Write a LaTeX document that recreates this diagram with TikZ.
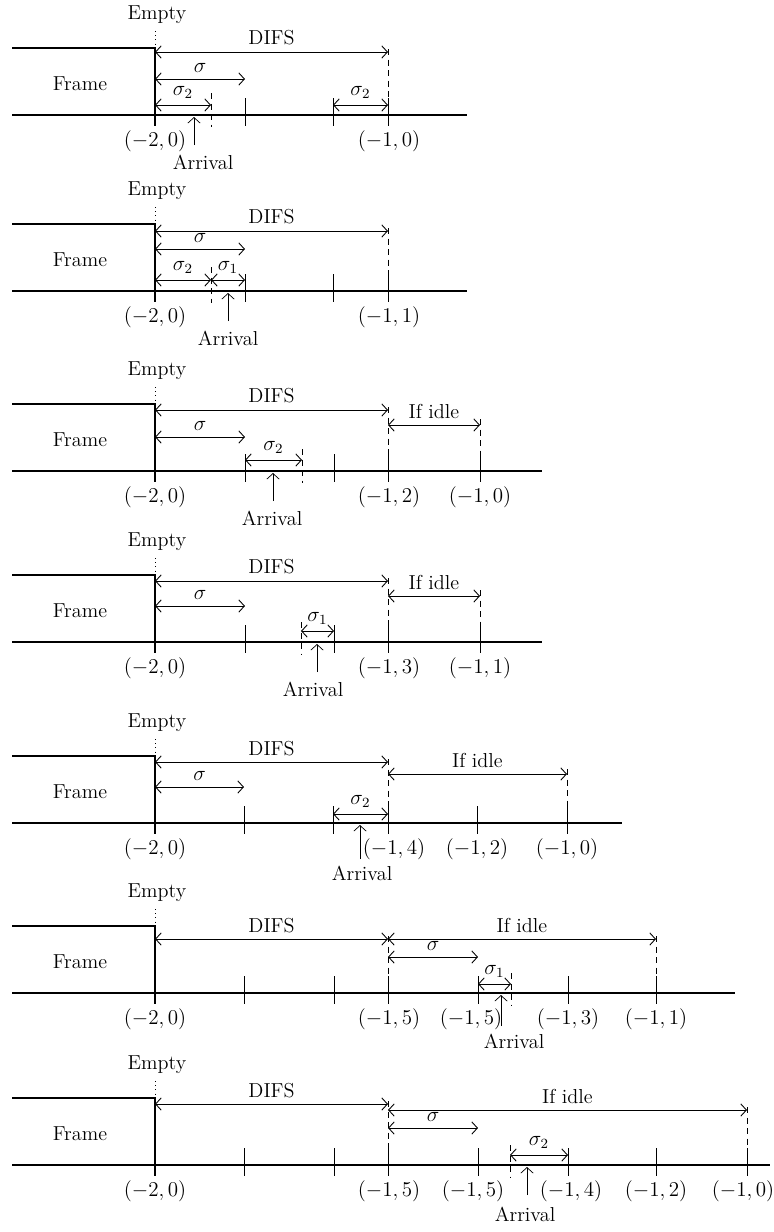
\documentclass[tikz,border=0pt]{standalone}
\usetikzlibrary{arrows.meta}
\tikzset{
  >={Straight Barb[length=3.2pt,width=7pt]},
  axis/.style={line width=0.6pt},
  slot/.style={line width=0.5pt},
  halfslot/.style={line width=0.5pt,dash pattern=on 3.5pt off 2.5pt},
  dimline/.style={<->,line width=0.5pt},
  lab/.style={midway,above=2.5pt,inner sep=1pt},
}
\begin{document}
\begin{tikzpicture}[x=0.02cm,y=-0.02cm,font=\fontsize{11.5}{13.8}\selectfont]
  \useasboundingbox (0,0) rectangle (774,1232);
  % common part of each panel: frame, time axis, DIFS
  \foreach \i/\yb/\xe/\yd/\n/\xn in {1/115/467/-63/0/389,2/291/467/-60/1/389,3/471/542/-61/2/389,
      4/642/542/-61/3/389,5/823/622/-61/4/394,6/993/735/-54/5/389,7/1165/770/-61/5/389}{
    \begin{scope}[shift={(0,\yb)}]
      \draw[axis] (12,-67) -- (155,-67) -- (155,11);
      \draw[axis] (12,0) -- (\xe,0);
      \draw[dotted] (155,-84) -- (155,-67);
      \node (empty\i) at (157,-100) {Empty};
      \node (frame\i) at (80,-31) {Frame};
      \node (start\i) at (155,26) {$(-2,0)$};
      \node (end\i) at (\xn,26) {$(-1,\n)$};
      \draw[halfslot] (388,\yd-3) -- (388,-17);
      \draw[slot] (388,-17) -- (388,11);
      \draw[dimline] (155,\yd) -- (388,\yd) node[lab] (difs\i) {DIFS};
    \end{scope}
  }
  % panel 1
  \begin{scope}[shift={(0,115)}]
    \foreach \x in {245,333} \draw[slot] (\x,-17) -- (\x,11);
    \draw[halfslot] (211,-22) -- (211,12);
    \draw[dimline] (155,-36) -- (245,-36) node[lab] (sig1) {$\sigma$};
    \draw[dimline] (155,-10) -- (211,-10) node[lab] (sigb1) {$\sigma_2$};
    \draw[dimline] (333,-10) -- (388,-10) node[lab] (sigc1) {$\sigma_2$};
    \node (arr1) at (203,47) {Arrival};
    \draw[->] (194,30) -- (194,2);
  \end{scope}
  % panel 2
  \begin{scope}[shift={(0,291)}]
    \foreach \x in {245,333} \draw[slot] (\x,-17) -- (\x,11);
    \draw[halfslot] (211,-24) -- (211,12);
    \draw[dimline] (155,-42) -- (245,-42) node[lab] (sig2) {$\sigma$};
    \draw[dimline] (155,-11) -- (211,-11) node[lab] (sigb2) {$\sigma_2$};
    \draw[dimline] (211,-11) -- (245,-11) node[lab] (sigc2) {$\sigma_1$};
    \node (arr2) at (228,47) {Arrival};
    \draw[->] (228,30) -- (228,2);
  \end{scope}
  % panel 3
  \begin{scope}[shift={(0,471)}]
    \foreach \x in {245,334} \draw[slot] (\x,-17) -- (\x,11);
    \draw[halfslot] (302,-22) -- (302,12);
    \draw[halfslot] (480,-52) -- (480,-17);
    \draw[slot] (480,-17) -- (480,11);
    \node (idle3) at (480,26) {$(-1,0)$};
    \draw[dimline] (155,-34) -- (245,-34) node[lab] (sig3) {$\sigma$};
    \draw[dimline] (245,-11) -- (302,-11) node[lab] (sigb3) {$\sigma_2$};
    \draw[dimline] (388,-46) -- (480,-46) node[lab] (ifidle3) {If idle};
    \node (arr3) at (272,47) {Arrival};
    \draw[->] (273,30) -- (273,2);
  \end{scope}
  % panel 4
  \begin{scope}[shift={(0,642)}]
    \foreach \x in {245,334} \draw[slot] (\x,-17) -- (\x,11);
    \draw[halfslot] (301,-20) -- (301,12);
    \draw[halfslot] (480,-52) -- (480,-17);
    \draw[slot] (480,-17) -- (480,11);
    \node (idle4) at (480,26) {$(-1,1)$};
    \draw[dimline] (155,-36) -- (245,-36) node[lab] (sig4) {$\sigma$};
    \draw[dimline] (301,-11) -- (334,-11) node[lab] (sigb4) {$\sigma_1$};
    \draw[dimline] (388,-46) -- (480,-46) node[lab] (ifidle4) {If idle};
    \node (arr4) at (313,47) {Arrival};
    \draw[->] (317,30) -- (317,2);
  \end{scope}
  % panel 5
  \begin{scope}[shift={(0,823)}]
    \foreach \x in {244,333,477} \draw[slot] (\x,-17) -- (\x,11);
    \draw[halfslot] (567,-54) -- (567,-17);
    \draw[slot] (567,-17) -- (567,11);
    \node (mid5) at (477,26) {$(-1,2)$};
    \node (idle5) at (567,26) {$(-1,0)$};
    \draw[dimline] (155,-36) -- (244,-36) node[lab] (sig5) {$\sigma$};
    \draw[dimline] (333,-9) -- (388,-9) node[lab] (sigb5) {$\sigma_2$};
    \draw[dimline] (388,-49) -- (567,-49) node[lab] (ifidle5) {If idle};
    \node (arr5) at (362,50) {Arrival};
    \draw[->] (360,36) -- (360,2);
  \end{scope}
  % panel 6
  \begin{scope}[shift={(0,993)}]
    \foreach \x in {244,334,478,568} \draw[slot] (\x,-17) -- (\x,11);
    \draw[halfslot] (511,-20) -- (511,12);
    \draw[halfslot] (656,-57) -- (656,-17);
    \draw[slot] (656,-17) -- (656,11);
    \node (sl6) at (471,26) {$(-1,5)$};
    \node (mid6) at (568,26) {$(-1,3)$};
    \node (idle6) at (656,26) {$(-1,1)$};
    \draw[dimline] (388,-36) -- (478,-36) node[lab] (sig6) {$\sigma$};
    \draw[dimline] (478,-9) -- (511,-9) node[lab] (sigb6) {$\sigma_1$};
    \draw[dimline] (388,-54) -- (656,-54) node[lab] (ifidle6) {If idle};
    \node (arr6) at (514,48) {Arrival};
    \draw[->] (501,33) -- (501,2);
  \end{scope}
  % panel 7
  \begin{scope}[shift={(0,1165)}]
    \foreach \x in {244,334,478,568,656} \draw[slot] (\x,-17) -- (\x,11);
    \draw[halfslot] (510,-20) -- (510,12);
    \draw[halfslot] (747,-58) -- (747,-17);
    \draw[slot] (747,-17) -- (747,11);
    \node (sl7) at (473,26) {$(-1,5)$};
    \node (mid7) at (571,26) {$(-1,4)$};
    \node (mid7b) at (656,26) {$(-1,2)$};
    \node (idle7) at (743,26) {$(-1,0)$};
    \draw[dimline] (388,-37) -- (478,-37) node[lab] (sig7) {$\sigma$};
    \draw[dimline] (510,-10) -- (568,-10) node[lab] (sigb7) {$\sigma_2$};
    \draw[dimline] (388,-55) -- (747,-55) node[lab] (ifidle7) {If idle};
    \node (arr7) at (525,49) {Arrival};
    \draw[->] (527,30) -- (527,2);
  \end{scope}
\end{tikzpicture}
\end{document}
